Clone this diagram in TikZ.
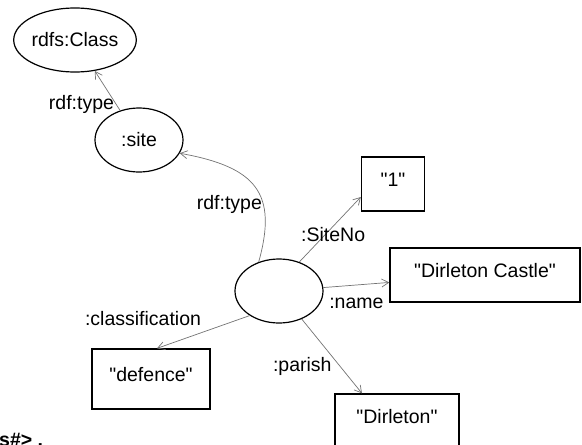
\documentclass[tikz,border=0pt]{standalone}
\usepackage{fontspec}
\setmainfont{Liberation Sans}
\usetikzlibrary{shapes,arrows.meta,positioning}

\begin{document}
\begin{tikzpicture}[x=1pt,y=-1pt,font=\fontsize{19.5}{23}\selectfont]
  \tikzstyle{res} = [ellipse, draw=black, line width=1.2pt, inner sep=0pt, minimum height=64pt]
  \tikzstyle{lit} = [rectangle, draw=black, line width=1.3pt, inner sep=0pt, text height=13pt, text depth=8pt]
  \tikzstyle{prop} = [draw=black!55, line width=0.7pt, -{Straight Barb[length=7pt,width=8pt]}]
  \tikzstyle{plabel} = [inner sep=2pt]

  \path[use as bounding box, clip] (0,0) rectangle (582,445);

  \node (rdfsclass) [res, minimum width=122pt] at (75,40) {rdfs:Class};
  \node (site) [res, minimum width=88pt] at (139,140) {:site};
  \node (blank) [res, minimum width=88pt] at (279,291) {};

  \node (siteno) [lit, minimum width=63pt, minimum height=54pt] at (393,184) {\textquotedbl 1\textquotedbl};
  \node (name) [lit, minimum width=190pt, minimum height=54pt] at (485,275) {\textquotedbl Dirleton Castle\textquotedbl};
  \node (parish) [lit, minimum width=124pt, minimum height=54pt] at (397,421) {\textquotedbl Dirleton\textquotedbl};
  \node (classif) [lit, minimum width=118pt, minimum height=60pt] at (151,379) {\textquotedbl defence\textquotedbl};

  \draw [prop] (site) -- node [plabel, left, pos=0.15] {rdf:type} (rdfsclass);
  \draw [prop] (blank.125) .. controls (278,193) and (256,167) .. node [plabel, left, pos=0.35, inner sep=1pt] {rdf:type} (site.-18);
  \draw [prop] (blank.55) -- node [plabel, pos=0.42, xshift=8pt] {:SiteNo} ([yshift=-13pt]siteno.west);
  \draw [prop] (blank) -- node [plabel, below=11pt, pos=0.5] {:name} (name);
  \draw [prop] (blank) -- node [plabel, left, pos=0.6, xshift=-4pt, yshift=-3pt] {:parish} ([xshift=-35pt]parish.north);
  \draw [prop] (blank.220) -- node [plabel, above left, pos=0.5, yshift=4pt] {:classification} ([xshift=6pt]classif.north);

  \node (prefix) [anchor=base west, inner sep=0pt, font=\fontsize{19.5}{23}\selectfont\bfseries] at (-1,446) {s\#> .};
\end{tikzpicture}
\end{document}
